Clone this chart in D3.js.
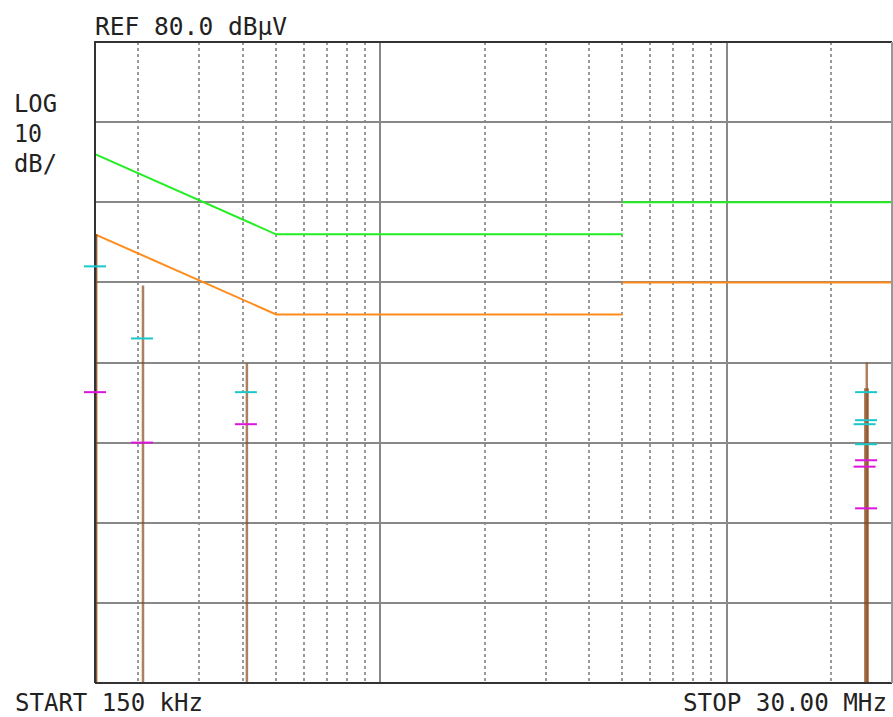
<!DOCTYPE html>
<html>
<head>
<meta charset="utf-8">
<script src="https://cdn.jsdelivr.net/npm/d3@7/dist/d3.min.js"></script>
<style>
body{margin:0;background:#fff;}
text{font-family:"DejaVu Sans Mono",monospace;fill:#222;}
</style>
</head>
<body>
<div id="plot"></div>
<script>
// frequencies in MHz, levels in dBuV
var freqStart = 0.15, freqStop = 30;
var refLevel = 80, dbPerDiv = 10, divisions = 8;
var solidFreqs = [1, 10];
var dottedFreqs = [0.2,0.3,0.4,0.5,0.6,0.7,0.8,0.9,2,3,4,5,6,7,8,9,20];

// limit lines (each segment drawn separately)
var qpLimit = [[[0.15,66],[0.5,56],[5,56]], [[5,60],[30,60]]];
var avLimit = [[[0.15,56],[0.5,46],[5,46]], [[5,50],[30,50]]];

// spectrum peaks
var peakFreqs  = [0.15, 0.15, 0.205, 0.409, 24.95, 25.2, 25.35];
var peakLevels = [56, 56, 49.6, 39.9, 36.8, 40, 36.8];

// quasi-peak and average readings
var qpFreqs  = [0.15, 0.205, 0.409, 25.25, 25.25, 25.0, 25.25];
var qpLevels = [52.0, 43.0, 36.3, 36.3, 32.8, 32.3, 29.8];
var avFreqs  = [0.15, 0.205, 0.409, 25.25, 25.0, 25.25];
var avLevels = [36.3, 30.0, 32.3, 27.8, 27.0, 21.8];

var W = 893, H = 717;
var pLeft = 95, pRight = 892, pTop = 42, pBottom = 683;

var svg = d3.select("#plot").append("svg").attr("width",W).attr("height",H);

var x = d3.scaleLog().domain([freqStart,freqStop]).range([pLeft,pRight]);
var y = d3.scaleLinear().domain([refLevel - dbPerDiv*divisions, refLevel]).range([pBottom,pTop]);

//dotted verticals
svg.append("g").selectAll("line").data(dottedFreqs).enter().append("line")
	.attr("x1",function(d){return Math.round(x(d));}).attr("x2",function(d){return Math.round(x(d));})
	.attr("y1",pTop).attr("y2",pBottom)
	.attr("stroke","#999").attr("stroke-width",2).attr("stroke-dasharray","3,3");

//solid grid
var levels = d3.range(1,divisions).map(function(i){return i*dbPerDiv;});
svg.append("g").selectAll("line").data(levels).enter().append("line")
	.attr("x1",pLeft).attr("x2",pRight)
	.attr("y1",function(d){return Math.round(y(d));}).attr("y2",function(d){return Math.round(y(d));})
	.attr("stroke","#888").attr("stroke-width",2);
svg.append("g").selectAll("line").data(solidFreqs).enter().append("line")
	.attr("x1",function(d){return Math.round(x(d));}).attr("x2",function(d){return Math.round(x(d));})
	.attr("y1",pTop).attr("y2",pBottom)
	.attr("stroke","#888").attr("stroke-width",2);

//limit lines
var line = d3.line().x(function(d){return x(d[0]);}).y(function(d){return y(d[1]);});
svg.append("g").selectAll("path").data(qpLimit).enter().append("path")
	.attr("d",line).attr("fill","none").attr("stroke","#22ee22").attr("stroke-width",2);
svg.append("g").selectAll("path").data(avLimit).enter().append("path")
	.attr("d",line).attr("fill","none").attr("stroke","#ff8c1a").attr("stroke-width",2);

//peaks
svg.append("g").selectAll("line").data(peakFreqs).enter().append("line")
	.attr("x1",function(d){return x(d)+1;}).attr("x2",function(d){return x(d)+1;})
	.attr("y1",function(d,i){return y(peakLevels[i]);}).attr("y2",pBottom)
	.attr("stroke","#8b4a1c").attr("stroke-opacity",0.7).attr("stroke-width",2.5);

//frame
svg.append("path").attr("d","M"+pLeft+","+pBottom+"V"+pTop+"H"+pRight)
	.attr("fill","none").attr("stroke","#333").attr("stroke-width",2);
svg.append("line").attr("x1",pLeft).attr("x2",pRight).attr("y1",pBottom).attr("y2",pBottom)
	.attr("stroke","#333").attr("stroke-width",2);
svg.append("line").attr("x1",pRight).attr("x2",pRight).attr("y1",pTop).attr("y2",pBottom)
	.attr("stroke","#999").attr("stroke-width",2);

//markers
svg.append("g").selectAll("line").data(qpFreqs).enter().append("line")
	.attr("x1",function(d){return x(d)-11;}).attr("x2",function(d){return x(d)+11;})
	.attr("y1",function(d,i){return y(qpLevels[i]);}).attr("y2",function(d,i){return y(qpLevels[i]);})
	.attr("stroke","#1ac8cc").attr("stroke-width",2);
svg.append("g").selectAll("line").data(avFreqs).enter().append("line")
	.attr("x1",function(d){return x(d)-11;}).attr("x2",function(d){return x(d)+11;})
	.attr("y1",function(d,i){return y(avLevels[i]);}).attr("y2",function(d,i){return y(avLevels[i]);})
	.attr("stroke","#dd14dd").attr("stroke-width",2);

//labels
var labels = [
	{t:"REF 80.0 dB\u00b5V", x:95, y:35, w:192},
	{t:"LOG", x:14, y:112, w:43},
	{t:"10", x:14, y:142, w:28},
	{t:"dB/", x:14, y:172, w:43},
	{t:"START 150 kHz", x:15, y:711, w:188},
	{t:"STOP 30.00 MHz", x:683, y:711, w:204}
];
svg.append("g").selectAll("text").data(labels).enter().append("text")
	.attr("x",function(d){return d.x;}).attr("y",function(d){return d.y;})
	.attr("textLength",function(d){return d.w;}).attr("lengthAdjust","spacingAndGlyphs")
	.attr("font-size","24px")
	.text(function(d){return d.t;});
</script>
</body>
</html>
